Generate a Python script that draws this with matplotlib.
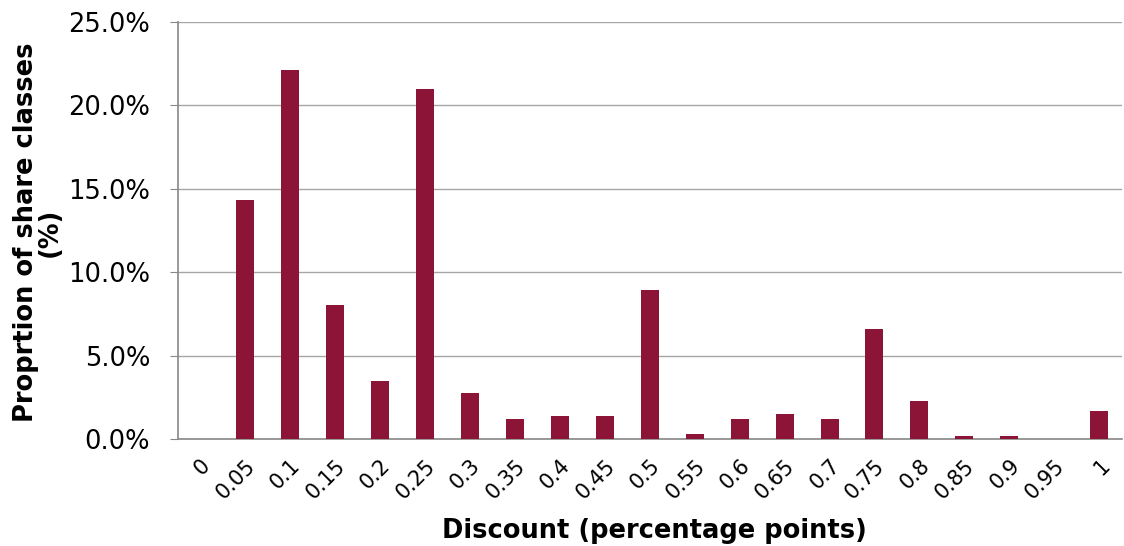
import numpy as np
import matplotlib.pyplot as plt
from matplotlib.ticker import PercentFormatter

discount = ['0', '0.05', '0.1', '0.15', '0.2', '0.25', '0.3', '0.35', '0.4', '0.45', '0.5',
            '0.55', '0.6', '0.65', '0.7', '0.75', '0.8', '0.85', '0.9', '0.95', '1']
share = [0.0, 14.3, 22.1, 8.0, 3.5, 21.0, 2.75, 1.2, 1.4, 1.4, 8.9,
         0.3, 1.2, 1.5, 1.2, 6.6, 2.3, 0.15, 0.15, 0.0, 1.7]

plt.rcParams['font.family'] = ['DejaVu Sans']

fig = plt.figure(figsize=(11.24, 5.46), dpi=100)
ax = fig.add_axes([0.158, 0.196, 0.84, 0.764])

x = np.arange(len(discount))
ax.bar(x, share, width=0.4, color='#8C1537', zorder=3)

ax.set_xlim(-0.5, len(discount) - 0.5)
ax.set_ylim(0, 25)
ax.set_yticks(np.arange(0, 26, 5))
ax.yaxis.set_major_formatter(PercentFormatter(decimals=1))
ax.grid(axis='y', color='#a6a6a6', linewidth=1.0, zorder=0)

ax.set_xticks(x)
ax.set_xticklabels(discount, rotation=45, ha='right', rotation_mode='anchor')
ax.tick_params(axis='x', length=0, labelsize=15, pad=12)
ax.tick_params(axis='y', length=5.8, color='#888888', labelsize=18.5, pad=14)

for side in ['top', 'right']:
    ax.spines[side].set_visible(False)
for side in ['left', 'bottom']:
    ax.spines[side].set_color('#888888')
    ax.spines[side].set_linewidth(1.2)

ax.set_xlabel('Discount (percentage points)', fontsize=18.5, fontweight='bold')
ax.xaxis.set_label_coords(0.505, -0.19)

fig.text(38 / 1124, 1 - 232 / 546, 'Proprtion of share classes\n(%)', fontsize=18.5,
         fontweight='bold', rotation=90, ha='center', va='center',
         multialignment='center', linespacing=0.88)

fig.savefig('out.png', dpi=100)
